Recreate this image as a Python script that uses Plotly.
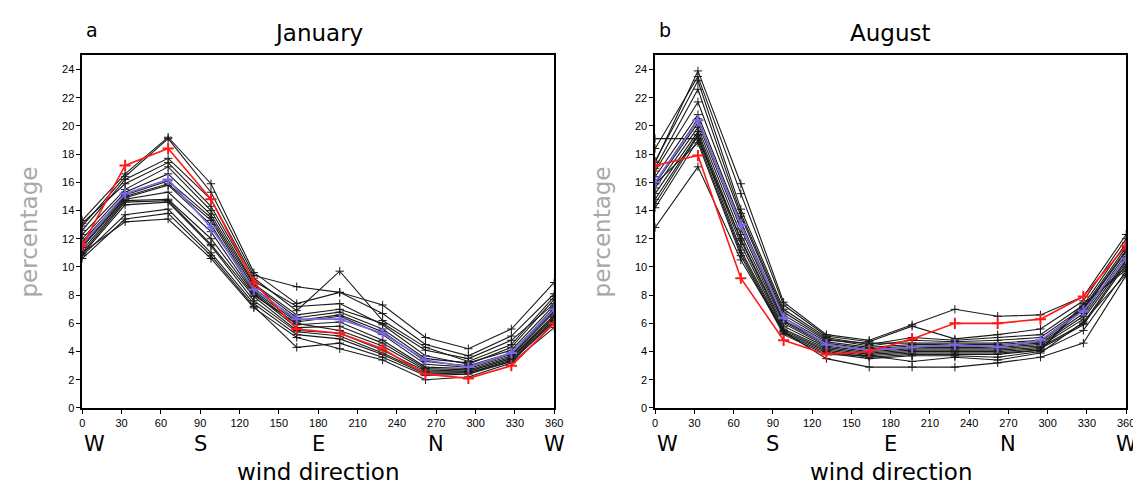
import plotly.graph_objects as go

# wind direction sample points (12 sectors spanning 0..360)
directions = [0, 32.7, 65.5, 98.2, 130.9, 163.6, 196.4, 229.1, 261.8, 294.5, 327.3, 360]
x_ticks = [0, 30, 60, 90, 120, 150, 180, 210, 240, 270, 300, 330, 360]
y_ticks = [0, 2, 4, 6, 8, 10, 12, 14, 16, 18, 20, 22, 24]
compass_labels = ["W", "S", "E", "N", "W"]
compass_pos = [0, 90, 180, 270, 360]

# January - individual members (black)
jan_members = [
    [13.3, 16.6, 19.2, 15.9, 9.6, 7.4, 8.2, 7.3, 5.0, 4.2, 5.6, 8.9],
    [12.9, 16.4, 19.1, 15.3, 9.4, 8.6, 8.2, 6.7, 4.5, 3.7, 5.1, 8.1],
    [12.6, 16.2, 17.7, 14.8, 9.2, 6.9, 9.7, 6.2, 4.3, 3.3, 4.5, 7.9],
    [13.1, 15.9, 17.4, 14.3, 9.0, 7.2, 7.4, 5.9, 3.7, 3.1, 4.3, 7.7],
    [12.3, 15.5, 17.1, 14.0, 8.8, 6.6, 7.0, 6.0, 4.1, 3.5, 4.8, 7.4],
    [12.0, 15.3, 16.6, 13.7, 8.7, 6.4, 6.8, 5.6, 3.5, 3.2, 4.1, 7.3],
    [11.8, 15.1, 16.1, 13.5, 8.5, 6.2, 6.6, 5.4, 3.3, 3.0, 3.9, 7.1],
    [11.7, 15.0, 15.9, 13.3, 8.3, 6.1, 6.5, 5.2, 3.1, 2.9, 3.8, 6.9],
    [11.5, 14.9, 15.8, 13.0, 8.2, 5.9, 6.1, 4.8, 2.9, 2.8, 3.7, 6.8],
    [11.4, 14.8, 15.3, 12.5, 8.1, 5.7, 5.8, 4.6, 2.8, 2.7, 3.6, 6.6],
    [11.2, 14.7, 14.8, 12.0, 8.0, 6.0, 5.5, 4.4, 2.7, 2.6, 3.5, 6.5],
    [11.0, 14.6, 14.7, 11.6, 7.9, 5.5, 5.3, 4.1, 2.6, 2.6, 3.5, 6.4],
    [10.9, 14.4, 14.6, 11.5, 7.6, 5.4, 5.1, 3.9, 2.5, 2.5, 3.4, 6.3],
    [10.8, 13.7, 14.1, 11.0, 7.4, 5.2, 4.9, 3.8, 2.4, 2.5, 3.3, 6.2],
    [10.6, 13.4, 13.8, 10.8, 7.2, 4.3, 4.6, 3.6, 2.3, 2.4, 3.3, 6.1],
    [11.0, 13.2, 13.4, 10.6, 7.1, 5.0, 4.2, 3.4, 2.0, 2.2, 3.2, 5.7],
]
jan_mean = [11.6, 15.2, 16.2, 12.8, 8.4, 6.3, 6.3, 5.3, 3.4, 2.9, 3.9, 7.0]
jan_obs = [11.5, 17.2, 18.4, 14.8, 8.9, 5.6, 5.3, 4.2, 2.4, 2.1, 3.0, 6.0]

# August - individual members (black)
aug_members = [
    [17.4, 23.9, 15.9, 7.5, 5.2, 4.8, 5.9, 7.0, 6.5, 6.6, 7.9, 12.3],
    [18.4, 23.5, 15.2, 7.3, 5.1, 4.7, 5.8, 4.9, 5.2, 5.6, 7.6, 12.0],
    [17.5, 23.2, 14.1, 7.0, 5.0, 4.5, 5.0, 4.8, 5.0, 5.2, 7.3, 11.7],
    [17.0, 22.6, 13.8, 6.8, 4.9, 4.4, 4.8, 4.7, 4.8, 5.0, 7.1, 11.4],
    [16.8, 21.7, 13.6, 6.6, 4.8, 4.6, 4.6, 4.6, 4.6, 4.8, 7.0, 11.2],
    [16.4, 20.8, 13.2, 6.4, 4.7, 4.3, 4.5, 4.5, 4.5, 4.7, 6.9, 11.1],
    [16.0, 20.5, 13.0, 6.2, 4.6, 4.2, 4.4, 4.4, 4.4, 4.6, 6.7, 10.9],
    [15.9, 20.2, 12.7, 6.1, 4.5, 4.1, 4.3, 4.3, 4.3, 4.5, 6.5, 10.7],
    [15.6, 19.9, 12.3, 6.0, 4.4, 4.0, 4.2, 4.2, 4.2, 4.4, 6.3, 10.5],
    [19.1, 19.1, 12.0, 5.8, 4.3, 3.9, 4.1, 4.1, 4.1, 4.3, 6.0, 10.4],
    [15.2, 19.6, 11.9, 5.6, 4.2, 3.8, 4.0, 4.0, 4.0, 4.2, 5.9, 10.2],
    [14.8, 19.4, 11.6, 5.5, 4.1, 3.7, 3.9, 3.9, 3.9, 4.1, 7.2, 10.0],
    [14.5, 19.3, 11.2, 5.4, 4.0, 3.6, 3.8, 3.8, 3.8, 4.1, 7.4, 9.8],
    [14.2, 19.0, 11.0, 5.3, 3.9, 3.5, 3.7, 3.7, 3.6, 4.0, 5.5, 9.7],
    [15.9, 18.8, 10.8, 5.2, 3.8, 3.7, 3.3, 3.6, 3.4, 3.9, 6.1, 9.5],
    [12.8, 17.1, 10.5, 5.4, 3.5, 2.9, 2.9, 2.9, 3.2, 3.6, 4.6, 9.4],
]
aug_mean = [16.0, 20.4, 13.0, 6.4, 4.5, 4.1, 4.3, 4.5, 4.3, 4.8, 6.9, 10.6]
aug_obs = [17.2, 17.9, 9.2, 4.8, 3.8, 4.0, 4.9, 6.0, 6.0, 6.3, 7.9, 11.5]

panels = [
    ("x", "y", jan_members, jan_mean, jan_obs),
    ("x2", "y2", aug_members, aug_mean, aug_obs),
]

fig = go.Figure()
for xa, ya, members, mean, obs in panels:
    for m in members:
        fig.add_trace(go.Scatter(
            x=directions, y=m, xaxis=xa, yaxis=ya, mode="lines+markers",
            line=dict(color="#1a1a1a", width=1.1),
            marker=dict(symbol="cross-thin", size=6, line=dict(color="#1a1a1a", width=1)),
            showlegend=False, hoverinfo="skip"))
    fig.add_trace(go.Scatter(
        x=directions, y=mean, xaxis=xa, yaxis=ya, mode="lines+markers",
        line=dict(color="#7868e8", width=1.6),
        marker=dict(symbol="cross-thin", size=8, line=dict(color="#7868e8", width=2)),
        showlegend=False))
    fig.add_trace(go.Scatter(
        x=directions, y=obs, xaxis=xa, yaxis=ya, mode="lines+markers",
        line=dict(color="#ff1a1a", width=1.6),
        marker=dict(symbol="cross-thin", size=8, line=dict(color="#ff1a1a", width=2)),
        showlegend=False))

W = 1141
H = 485
ydom = [(H - 405) / H, (H - 48) / H]
xdom_a = [72 / W, 549 / W]
xdom_b = [651 / W, 1127 / W]

axis_common = dict(showline=True, linecolor="black", linewidth=1.5, mirror=True,
                   ticks="outside", ticklen=4, tickwidth=1, tickcolor="black",
                   showgrid=False, zeroline=False,
                   tickfont=dict(family="Liberation Sans", size=11, color="black"))

fig.update_layout(
    width=W, height=H,
    margin=dict(l=0, r=0, t=0, b=0),
    paper_bgcolor="white", plot_bgcolor="white",
    xaxis=dict(domain=xdom_a, range=[0, 360], tickvals=x_ticks, anchor="y", **axis_common),
    yaxis=dict(domain=ydom, range=[0, 25], tickvals=y_ticks, anchor="x", **axis_common),
    xaxis2=dict(domain=xdom_b, range=[0, 360], tickvals=x_ticks, anchor="y2", **axis_common),
    yaxis2=dict(domain=ydom, range=[0, 25], tickvals=y_ticks, anchor="x2", **axis_common),
)

anns = []
title_font = dict(family="DejaVu Sans", size=23, color="black")
for xa, letter, month, lx, xdom in [("x", "a", "January", 72, xdom_a), ("x2", "b", "August", 651, xdom_b)]:
    xc = (xdom[0] + xdom[1]) / 2
    anns.append(dict(text=letter, x=(lx + 2) / W, y=(H - 22) / H, xref="paper", yref="paper",
                     xanchor="left", yanchor="middle", showarrow=False,
                     font=dict(family="DejaVu Sans", size=19, color="black")))
    anns.append(dict(text=month, x=xc, y=(H - 25) / H, xref="paper", yref="paper",
                     xanchor="center", yanchor="middle", showarrow=False, font=title_font))
    anns.append(dict(text="wind direction", x=xc, y=(H - 470) / H, xref="paper", yref="paper",
                     xanchor="center", yanchor="middle", showarrow=False, font=title_font))
    anns.append(dict(text="percentage", x=(lx - 54) / W, y=(ydom[0] + ydom[1]) / 2,
                     xref="paper", yref="paper", xanchor="center", yanchor="middle",
                     textangle=-90, showarrow=False,
                     font=dict(family="DejaVu Sans", size=23, color="#a8a8a8")))
    for i, (lab, pos) in enumerate(zip(compass_labels, compass_pos)):
        anns.append(dict(text=lab, x=pos, y=(H - 441) / H, xref=xa, yref="paper",
                         xanchor="left" if i == 0 else "center", yanchor="middle",
                         showarrow=False, font=dict(family="DejaVu Sans", size=21, color="black")))
fig.update_layout(annotations=anns)

fig.write_html("out.html")
